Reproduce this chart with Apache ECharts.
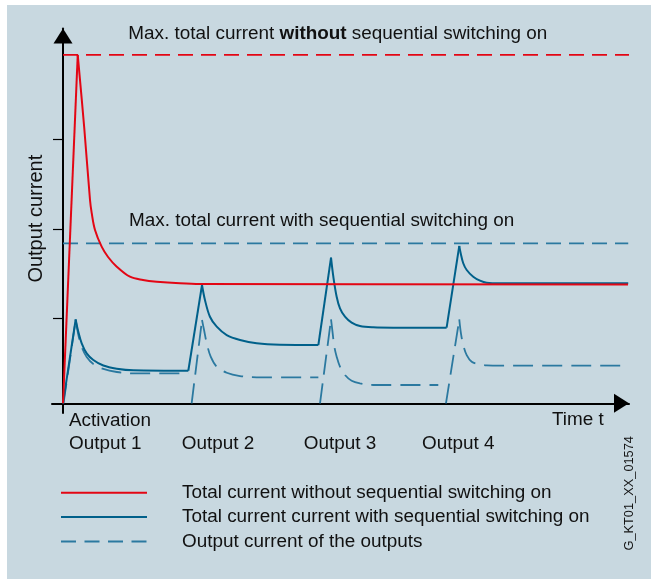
<!DOCTYPE html>
<html><head><meta charset="utf-8">
<script src="https://cdn.jsdelivr.net/npm/echarts/dist/echarts.min.js"></script>
<style>
html,body{margin:0;padding:0;background:#ffffff;}
#wrap{position:relative;width:651px;height:579px;overflow:hidden;}
#panel{position:absolute;left:7px;top:5px;width:644px;height:574px;background:#c8d8e0;}
#chart{position:absolute;left:0;top:0;width:651px;height:579px;}
</style></head>
<body><div id="wrap"><div id="panel"></div><div id="chart"></div></div>
<script>
// ---- data: time t (arbitrary units), current (arbitrary units) ----
const legendNames = ['Total current without sequential switching on',
                     'Total current current with sequential switching on',
                     'Output current of the outputs'];
const outputLabels = ['Output 1', 'Output 2', 'Output 3', 'Output 4'];
const yTicks = [0.943, 1.943, 2.943];
const maxWithout = [[0, 3.883], [44.22, 3.883]];
const maxWith = [[0, 1.782], [44.16, 1.782]];
const totalWithout = [[0, 0], [1.15, 3.883], [1.66, 3.069], [2.11, 2.266], [2.24, 2.122], [2.5, 1.932],
  [3.02, 1.746], [3.52, 1.631], [4.2, 1.523], [5.23, 1.411], [6.25, 1.375], [7.32, 1.356],
  [9.14, 1.338], [10.7, 1.33], [44.14, 1.324]];
const totalWith = [[0, 0], [0.99, 0.936], [1.2, 0.795], [1.46, 0.669], [1.85, 0.557], [2.37, 0.483],
  [3.15, 0.421], [4.2, 0.386], [5.49, 0.368], [9.79, 0.363],
  [10.86, 1.319], [11.09, 1.152], [11.48, 0.965], [12.01, 0.854], [12.79, 0.761], [13.83, 0.706],
  [15.13, 0.669], [16.95, 0.653], [19.95, 0.65],
  [20.94, 1.623], [21.12, 1.411], [21.38, 1.188], [21.64, 1.059], [22.03, 0.965], [22.55, 0.899],
  [23.2, 0.862], [24.24, 0.847], [25.8, 0.843], [29.97, 0.843],
  [30.96, 1.754], [31.07, 1.672], [31.27, 1.561], [31.54, 1.486], [32.05, 1.411], [32.58, 1.367],
  [33.1, 1.344], [34.14, 1.338], [44.16, 1.338]];
const output1 = [[0.04, 0], [0.99, 0.929], [1.2, 0.761], [1.46, 0.628], [1.85, 0.516], [2.37, 0.438],
  [3.15, 0.383], [4.2, 0.349], [5.49, 0.334], [9.79, 0.334]];
const output2 = [[10.05, 0], [10.86, 0.929], [11.02, 0.817], [11.23, 0.669], [11.54, 0.52], [12.01, 0.408],
  [12.79, 0.341], [13.83, 0.304], [15.13, 0.29], [19.95, 0.29]];
const output3 = [[20.08, 0], [20.94, 0.936], [21.04, 0.817], [21.2, 0.631], [21.38, 0.52], [21.64, 0.408],
  [22.03, 0.316], [22.55, 0.252], [23.2, 0.223], [24.24, 0.204], [29.32, 0.204]];
const output4 = [[29.92, 0], [30.96, 0.936], [31.09, 0.78], [31.27, 0.65], [31.54, 0.538], [31.93, 0.464],
  [32.45, 0.438], [33.1, 0.424], [34.14, 0.419], [44.16, 0.419]];

// ---- styles ----
const FONT = '"Liberation Sans", Arial, sans-serif';
const TXT = '#111111';
const RED = '#e30614', BLUE = '#00608a', DASHC = '#2b79a0';
const FS = 18.9;

// split a curve into straight rising runs and smooth decaying runs
function splitRuns(pts) {
  const runs = [];
  let cur = [pts[0]];
  let rising = pts[1][1] > pts[0][1];
  for (let i = 1; i < pts.length; i++) {
    const up = pts[i][1] > pts[i - 1][1];
    if (up !== rising) { runs.push({ rising, pts: cur }); cur = [pts[i - 1]]; rising = up; }
    cur.push(pts[i]);
  }
  runs.push({ rising, pts: cur });
  return runs;
}
function mk(name, data, color, width, type, smooth, z) {
  return { type: 'line', name, data, symbol: 'none', showSymbol: false, smooth: smooth,
    clip: false, silent: true, z: z, lineStyle: { color, width, type }, itemStyle: { color },
    emphasis: { disabled: true } };
}
function curveSeries(name, pts, color, width, type, z) {
  return splitRuns(pts).map(r => mk(name, r.pts, color, width, type, r.rising ? false : 0.35, z));
}

const series = [];
series.push(mk('maxWithout', maxWithout, RED, 1.8, [15, 8], false, 2));
series.push(mk('maxWith', maxWith, DASHC, 1.8, [15, 8], false, 2));
[output1, output2, output3, output4].forEach(o =>
  series.push(...curveSeries(legendNames[2], o, DASHC, 1.8, [20, 9], 3)));
series.push(...curveSeries(legendNames[1], totalWith, BLUE, 2, 'solid', 4));
series.push(...curveSeries(legendNames[0], totalWithout, RED, 2, 'solid', 5));

const txt = (text, x, y, extra) => Object.assign({ type: 'text', x, y, silent: true,
  style: Object.assign({ text, fontSize: FS, fontFamily: FONT, fill: TXT, align: 'left', verticalAlign: 'middle' }, extra || {}) });

const outX = [69, 181.7, 303.7, 422];
const graphics = [
  txt('{r|Max. total current }{b|without}{r| sequential switching on}', 128.3, 33.5, {
    rich: { r: { fontSize: FS, fontFamily: FONT, fill: TXT }, b: { fontSize: FS, fontFamily: FONT, fontWeight: 'bold', fill: TXT } } }),
  txt('Max. total current with sequential switching on', 129, 221),
  Object.assign(txt('Output current', 36.4, 218.7, { fontSize: 20, align: 'center' }), { rotation: Math.PI / 2 }),
  txt('Activation', 69, 420.8),
  txt('Time t', 552, 420.2),
  Object.assign(txt('G_KT01_XX_01574', 629.6, 493.3, { fontSize: 12.8, align: 'center' }), { rotation: Math.PI / 2 })
];
outputLabels.forEach((l, i) => graphics.push(txt(l, outX[i], 444)));

const chart = echarts.init(document.getElementById('chart'), null, { renderer: 'canvas' });
chart.setOption({
  animation: false,
  backgroundColor: 'transparent',
  grid: { left: 52, right: 22, top: 28.5, bottom: 166, containLabel: false },
  xAxis: {
    type: 'value', min: -0.86, max: 44.22,
    axisLine: { show: true, onZero: true, symbol: ['none', 'triangle'], symbolSize: [19, 15], symbolOffset: [0, -7.5],
      lineStyle: { color: '#000', width: 2 } },
    axisTick: { show: false }, axisLabel: { show: false }, splitLine: { show: false }
  },
  yAxis: {
    type: 'value', min: -0.108, max: 4.178,
    axisLine: { show: true, onZero: true, symbol: ['none', 'triangle'], symbolSize: [19, 15], symbolOffset: [0, -7.5],
      lineStyle: { color: '#000', width: 2 } },
    axisTick: { show: true, customValues: yTicks, length: 10, inside: false, lineStyle: { color: '#000', width: 1.2 } },
    axisLabel: { show: false }, splitLine: { show: false }
  },
  legend: {
    data: [legendNames[0], legendNames[1], { name: legendNames[2], lineStyle: { type: [15, 8.5] } }],
    orient: 'vertical', left: 60, top: 481.7, padding: 0,
    itemWidth: 86, itemHeight: 20, itemGap: 2.4, selectedMode: false,
    itemStyle: { opacity: 0 },
    textStyle: { fontSize: FS, fontFamily: FONT, color: TXT, padding: [0, 0, 4, 30], lineHeight: 18 }
  },
  graphic: graphics,
  series: series
});
</script>
</body></html>
